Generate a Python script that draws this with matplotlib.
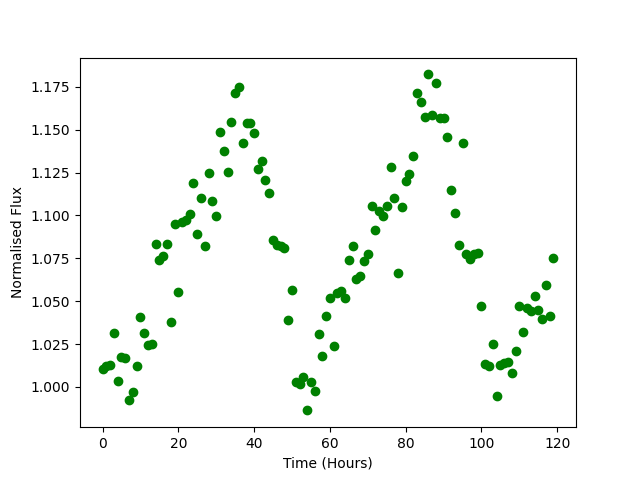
import matplotlib
matplotlib.use("Agg")
import matplotlib.pyplot as plt

# temps en heures (un point par heure)
hours = list(range(120))

# flux normalise
flux = [1.0106, 1.0120, 1.0125, 1.0316, 1.0032, 1.0172, 1.0166, 0.9925, 0.9968, 1.0120,
        1.0405, 1.0316, 1.0242, 1.0248, 1.0835, 1.0742, 1.0765, 1.0831, 1.0380, 1.0952,
        1.0551, 1.0961, 1.0971, 1.1008, 1.1191, 1.0894, 1.1104, 1.0824, 1.1250, 1.1086,
        1.0999, 1.1489, 1.1378, 1.1256, 1.1547, 1.1716, 1.1751, 1.1425, 1.1541, 1.1541,
        1.1483, 1.1273, 1.1320, 1.1209, 1.1133, 1.0859, 1.0826, 1.0821, 1.0810, 1.0388,
        1.0563, 1.0030, 1.0019, 1.0057, 0.9863, 1.0030, 0.9978, 1.0306, 1.0178, 1.0411,
        1.0520, 1.0236, 1.0550, 1.0559, 1.0520, 1.0742, 1.0820, 1.0631, 1.0646, 1.0736,
        1.0777, 1.1057, 1.0917, 1.1024, 1.0995, 1.1057, 1.1285, 1.1100, 1.0666, 1.1047,
        1.1199, 1.1244, 1.1349, 1.1712, 1.1660, 1.1576, 1.1823, 1.1584, 1.1775, 1.1567,
        1.1567, 1.1460, 1.1146, 1.1016, 1.0826, 1.1421, 1.0773, 1.0748, 1.0777, 1.0783,
        1.0470, 1.0135, 1.0124, 1.0252, 0.9949, 1.0127, 1.0137, 1.0147, 1.0083, 1.0211,
        1.0474, 1.0322, 1.0462, 1.0445, 1.0532, 1.0446, 1.0398, 1.0596, 1.0415, 1.0754]

plt.figure(figsize=(6.4, 4.8), dpi=100)
plt.plot(hours, flux, 'go')
plt.xlabel("Time (Hours)")
plt.ylabel("Normalised Flux")
plt.savefig("out.png")
